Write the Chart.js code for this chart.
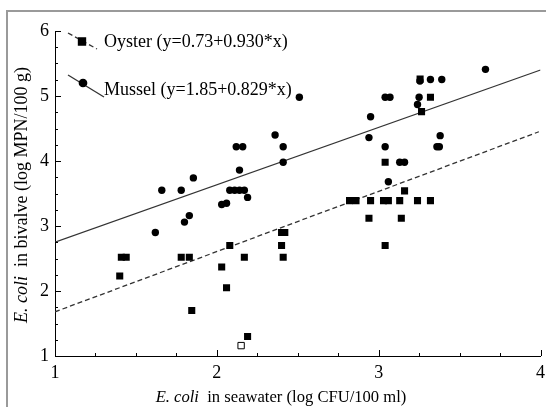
<!DOCTYPE html>
<html>
<head>
<meta charset="utf-8">
<script src="https://cdn.jsdelivr.net/npm/chart.js@4/dist/chart.umd.min.js"></script>
<style>
html,body{margin:0;padding:0;background:#fff;}
#wrap{width:546px;height:407px;position:relative;}
</style>
</head>
<body>
<div id="wrap"><canvas id="c" width="546" height="407"></canvas></div>
<script>
// ---- data ----
const xTitleItalic = 'E. coli';
const xTitleRest = '  in seawater (log CFU/100 ml)';
const yTitleItalic = 'E. coli';
const yTitleRest = '  in bivalve (log MPN/100 g)';
const legendLabels = ['Oyster (y=0.73+0.930*x)', 'Mussel (y=1.85+0.829*x)'];
const xRange = [1, 4];
const yRange = [1, 6];
const majorTicks = [1, 2, 3, 4, 5, 6];

const oysterX = [1.41,1.44,1.78,1.83,2.17,2.41,1.40,1.845,2.03,2.06,2.08,2.19,2.40,2.40,2.42,
                 2.82,2.86,2.95,3.03,3.06,3.13,3.24,3.32,2.94,3.14,3.04,3.04,3.16,3.32,3.265,3.256];
const oysterY = [2.52,2.52,2.52,2.52,2.52,2.52,2.23,1.70,2.37,2.05,2.70,1.30,2.70,2.90,2.90,
                 3.39,3.39,3.39,3.39,3.39,3.39,3.39,3.39,3.12,3.12,2.70,3.98,3.54,4.98,4.76,5.26];
const oysterOpenX = [2.15];
const oysterOpenY = [1.16];

const musselX = [1.62,1.80,1.83,1.66,1.78,1.855,2.03,2.06,2.08,2.11,2.14,2.17,2.19,2.14,2.12,2.16,
                 2.36,2.41,2.41,2.51,2.94,2.95,3.04,3.04,3.07,3.06,3.13,3.16,3.24,3.25,3.255,
                 3.32,3.39,3.36,3.375,3.38,3.66];
const musselY = [2.90,3.06,3.16,3.55,3.55,3.74,3.33,3.35,3.55,3.55,3.55,3.55,3.44,3.86,4.22,4.22,
                 4.40,4.22,3.98,4.98,4.36,4.68,4.22,4.98,4.98,3.68,3.98,3.98,4.87,4.98,5.23,
                 5.255,5.255,4.22,4.22,4.39,5.41];

const oysterFitX = [1, 3.99];
const oysterFitY = [1.68, 4.45];
const musselFitX = [1, 4];
const musselFitY = [2.75, 5.40];

const pts = (xs, ys) => xs.map((x, i) => ({x, y: ys[i]}));
const FONT = "'Liberation Serif', 'Times New Roman', serif";

// ---- plugins ----
const framePlugin = {
  id: 'frame',
  beforeDraw(chart) {
    const ctx = chart.ctx;
    ctx.save();
    ctx.fillStyle = '#fff';
    ctx.fillRect(0, 0, chart.width, chart.height);
    ctx.strokeStyle = '#9a9a9a';
    ctx.lineWidth = 2;
    ctx.beginPath();
    ctx.moveTo(7, chart.height);
    ctx.lineTo(7, 11);
    ctx.lineTo(chart.width, 11);
    ctx.stroke();
    ctx.restore();
  }
};

const tickPlugin = {
  id: 'inTicks',
  afterDraw(chart) {
    const ctx = chart.ctx;
    const xs = chart.scales.x, ys = chart.scales.y;
    ctx.save();
    ctx.strokeStyle = '#000';
    ctx.lineWidth = 1;
    ctx.beginPath();
    xs.ticks.forEach(t => {
      const px = Math.round(xs.getPixelForValue(t.value)) + 0.5;
      const len = Number.isInteger(t.value) ? 6 : 3;
      ctx.moveTo(px, ys.bottom);
      ctx.lineTo(px, ys.bottom - len);
    });
    ys.ticks.forEach(t => {
      const py = Math.round(ys.getPixelForValue(t.value)) + 0.5;
      const len = Number.isInteger(t.value) ? 6 : 3;
      ctx.moveTo(xs.left, py);
      ctx.lineTo(xs.left + len, py);
    });
    ctx.stroke();
    ctx.restore();
  }
};

function drawMixed(ctx, italic, rest, cx, cy, size) {
  ctx.font = 'italic ' + size + 'px ' + FONT;
  const w1 = ctx.measureText(italic).width;
  ctx.font = size + 'px ' + FONT;
  const w2 = ctx.measureText(rest).width;
  let x = cx - (w1 + w2) / 2;
  ctx.textAlign = 'left';
  ctx.textBaseline = 'middle';
  ctx.font = 'italic ' + size + 'px ' + FONT;
  ctx.fillText(italic, x, cy);
  ctx.font = size + 'px ' + FONT;
  ctx.fillText(rest, x + w1, cy);
}

const titlePlugin = {
  id: 'titles',
  afterDraw(chart) {
    const ctx = chart.ctx;
    ctx.save();
    ctx.fillStyle = '#000';
    drawMixed(ctx, xTitleItalic, xTitleRest, 281, 398, 16.6);
    ctx.translate(22, 195);
    ctx.rotate(-Math.PI / 2);
    drawMixed(ctx, yTitleItalic, yTitleRest, 0, 0, 18);
    ctx.restore();
  }
};

const legendPlugin = {
  id: 'diagLegend',
  afterDraw(chart) {
    const ctx = chart.ctx;
    ctx.save();
    const items = [
      {ds: chart.data.datasets[3], pt: chart.data.datasets[0], x1: 68, y1: 33, x2: 97, y2: 49, mx: 82, my: 41.5, ty: 42, label: legendLabels[0]},
      {ds: chart.data.datasets[4], pt: chart.data.datasets[2], x1: 68, y1: 75, x2: 104, y2: 97, mx: 83, my: 83, ty: 90, label: legendLabels[1]}
    ];
    items.forEach(it => {
      ctx.strokeStyle = it.ds.borderColor;
      ctx.lineWidth = it.ds.borderWidth;
      ctx.setLineDash(it.ds.borderDash || []);
      ctx.beginPath();
      ctx.moveTo(it.x1, it.y1);
      ctx.lineTo(it.x2, it.y2);
      ctx.stroke();
      ctx.setLineDash([]);
      ctx.fillStyle = '#000';
      ctx.strokeStyle = '#000';
      Chart.helpers.drawPoint(ctx, {
        pointStyle: it.pt.pointStyle,
        radius: it.pt.pointRadius,
        borderWidth: 1
      }, it.mx, it.my);
      ctx.fillStyle = '#000';
      ctx.font = '18px ' + FONT;
      ctx.textAlign = 'left';
      ctx.textBaseline = 'middle';
      ctx.fillText(it.label, 104, it.ty);
    });
    ctx.restore();
  }
};

const tickCb = v => (majorTicks.includes(v) ? String(v) : '');

new Chart(document.getElementById('c'), {
  type: 'scatter',
  data: {
    datasets: [
      {label: 'Oyster', data: pts(oysterX, oysterY), pointStyle: 'rect', pointRadius: 5,
       backgroundColor: '#000', borderColor: '#000', borderWidth: 0},
      {label: 'Oyster (open)', data: pts(oysterOpenX, oysterOpenY), pointStyle: 'rect', pointRadius: 4.5,
       backgroundColor: '#fff', borderColor: '#000', borderWidth: 1},
      {label: 'Mussel', data: pts(musselX, musselY), pointStyle: 'circle', pointRadius: 3.7,
       backgroundColor: '#000', borderColor: '#000', borderWidth: 0},
      {label: 'Oyster fit', type: 'line', data: pts(oysterFitX, oysterFitY), showLine: true, pointRadius: 0,
       borderColor: '#333', borderWidth: 1.3, borderDash: [5, 3], fill: false},
      {label: 'Mussel fit', type: 'line', data: pts(musselFitX, musselFitY), showLine: true, pointRadius: 0,
       borderColor: '#333', borderWidth: 1.3, fill: false}
    ]
  },
  options: {
    responsive: false,
    animation: false,
    layout: {padding: {left: 0, right: 4, top: 31, bottom: 0}},
    plugins: {legend: {display: false}, tooltip: {enabled: false}},
    scales: {
      x: {
        type: 'linear', min: xRange[0], max: xRange[1],
        grid: {display: false, drawTicks: false},
        border: {display: true, color: '#000', width: 1},
        ticks: {stepSize: 0.25, autoSkip: false, maxRotation: 0, padding: 6, color: '#000',
                font: {family: FONT, size: 18}, callback: tickCb},
        afterFit(s) { s.height = 51; s.paddingLeft = 0; s.paddingRight = 0; }
      },
      y: {
        type: 'linear', min: yRange[0], max: yRange[1],
        grid: {display: false, drawTicks: false},
        border: {display: true, color: '#000', width: 1},
        ticks: {stepSize: 0.25, autoSkip: false, padding: 6, color: '#000',
                font: {family: FONT, size: 18}, callback: tickCb},
        afterFit(s) { s.width = 55; s.paddingTop = 0; s.paddingBottom = 0; }
      }
    }
  },
  plugins: [framePlugin, tickPlugin, titlePlugin, legendPlugin]
});
</script>
</body>
</html>
